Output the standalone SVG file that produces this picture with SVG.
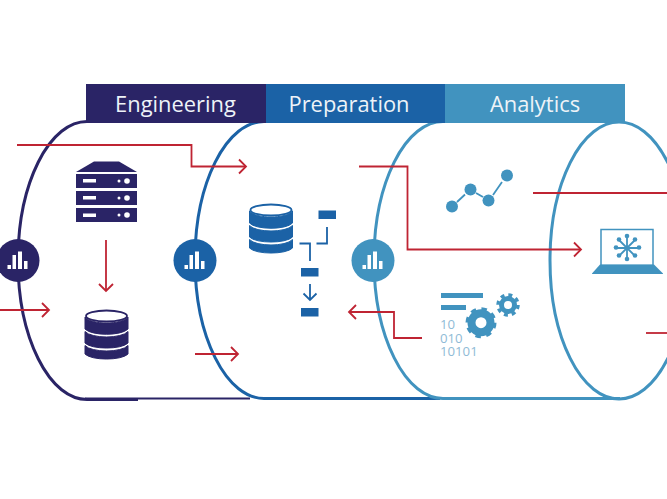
<svg xmlns="http://www.w3.org/2000/svg" width="667" height="499" viewBox="0 0 667 499">
<style>
.tab{font-family:"Open Sans","Noto Sans",sans-serif;font-size:21.9px;fill:#eef3f8;text-anchor:middle}
.cyl{fill:none;stroke-width:3}
.red{fill:none;stroke:#bf2433;stroke-width:1.800}
.d{fill:#2a2466}.b{fill:#1b62a6}.l{fill:#4193bf}
.w{fill:#fff}
.num{font-family:"Open Sans","Noto Sans",sans-serif;font-size:13.2px;fill:#8fbbd6}
</style>
<defs>
<marker id="ah" markerUnits="userSpaceOnUse" markerWidth="12" markerHeight="18" refX="10" refY="9" orient="auto"><path d="M3 2L10 9L3 16" fill="none" stroke="#bf2433" stroke-width="1.800"/></marker>
<g id="bars"><rect x="-11.500" y="5" width="3.500" height="4"/><rect x="-6.500" y="-5" width="3.500" height="14"/><rect x="-1" y="-8.500" width="4" height="17.500"/><rect x="5" y="1" width="3.500" height="8"/></g>
<g id="db"><path d="M-21.500 -18C-15 -10 15 -10 21.500 -18V-6C15 1 -15 1 -21.500 -6Z"/><path d="M-21.500 -3.500C-15 3.800 15 3.800 21.500 -3.500V8C15 14.700 -15 14.700 -21.500 8Z"/><path d="M-21.500 10.500C-15 17.800 15 17.800 21.500 10.500V19C15 25.700 -15 25.700 -21.500 19Z"/><ellipse cx="0" cy="-19" rx="20.500" ry="5.500" fill="#fff" stroke-width="1.800"/></g>
</defs>
<rect width="667" height="499" fill="#fff"/>
<g id="cylinders">
<path class="cyl" stroke="#2a2466" d="M85 398.500H250" style="stroke-width:2"/>
<path class="cyl" stroke="#2a2466" d="M138 399.500H87A69 139 0 0 1 87 121.500"/>
<path class="cyl" stroke="#1b62a6" d="M440 398.500H264A69 138.500 0 0 1 264 121.500"/>
<path class="cyl" stroke="#4193bf" d="M620 398.500H443A69 138.500 0 0 1 443 121.500"/>
<ellipse class="cyl" stroke="#4193bf" cx="619" cy="260.500" rx="69" ry="138.500"/>
</g>
<g id="tab-engineering"><rect class="d" x="86" y="84" width="180" height="39"/><text class="tab" x="175.500" y="111.500">Engineering</text></g>
<g id="tab-preparation"><rect class="b" x="266" y="84" width="180" height="39"/><text class="tab" x="349" y="111.500">Preparation</text></g>
<g id="tab-analytics"><rect class="l" x="445" y="84" width="180" height="39"/><text class="tab" x="535" y="111.500">Analytics</text></g>
<g id="connectors">
<path class="red" marker-end="url(#ah)" d="M17 145H191.500V166.500H246"/>
<path class="red" marker-end="url(#ah)" d="M106 240V291"/>
<path class="red" marker-end="url(#ah)" d="M0 310H49"/>
<path class="red" marker-end="url(#ah)" d="M195 354H238"/>
<path class="red" marker-end="url(#ah)" d="M359 166.500H407.500V249.500H581"/>
<path class="red" marker-end="url(#ah)" d="M422 338H394V312H349"/>
<path class="red" d="M533 193H667"/>
<path class="red" d="M646 333H667"/>
</g>
<g id="node-badge-engineering"><circle class="d" cx="18" cy="260.500" r="21.500"/><use href="#bars" x="19" y="260" class="w"/></g>
<g id="node-badge-preparation"><circle class="b" cx="195" cy="260.500" r="21.500"/><use href="#bars" x="196" y="260" class="w"/></g>
<g id="node-badge-analytics"><circle class="l" cx="373" cy="260.500" r="21.500"/><use href="#bars" x="374" y="260" class="w"/></g>
<g id="node-server" class="d">
<path d="M76 172L94 161.500H119L137 172Z"/>
<rect x="76" y="174" width="61" height="14"/><rect x="76" y="191" width="61" height="14"/><rect x="76" y="208" width="61" height="14"/>
<g class="w"><rect x="83" y="179" width="13" height="3.500"/><rect x="83" y="196" width="13" height="3.500"/><rect x="83" y="213.500" width="13" height="3.500"/>
<circle cx="119" cy="181" r="1.500"/><circle cx="127" cy="181" r="2.800"/><circle cx="119" cy="198" r="1.500"/><circle cx="127" cy="198" r="2.800"/><circle cx="119" cy="215" r="1.500"/><circle cx="127" cy="215" r="2.800"/></g>
</g>
<g id="node-db-engineering" class="d" transform="translate(106.500 335)"><use href="#db" stroke="#2a2466"/></g>
<g id="node-db-preparation" class="b" transform="translate(271 229)"><use href="#db" stroke="#1b62a6"/></g>
<g id="node-flow" class="b">
<rect x="318.500" y="210.500" width="17.500" height="8.500"/>
<rect x="301" y="268" width="17.500" height="8.500"/>
<rect x="301" y="308" width="17.500" height="8.500"/>
<path d="M327 227V243.500H316.500M299.500 243.500H310V261M310 284V299.500M303.500 293.500L310 300L316.500 293.500" fill="none" stroke="#1b62a6" stroke-width="1.800"/>
</g>
<g id="node-chart" class="l">
<circle cx="452" cy="206.500" r="6"/><circle cx="470.500" cy="189.500" r="6"/><circle cx="488.500" cy="200.500" r="6"/><circle cx="507" cy="175.500" r="6"/>
<path d="M457 202L465 194.500M476 193L483 197M493 195L502 182" fill="none" stroke="#4193bf" stroke-width="1.800"/>
</g>
<g id="node-laptop">
<rect x="601" y="229.500" width="52" height="36" fill="#fff" stroke="#4193bf" stroke-width="1.500"/>
<path class="l" d="M600 264.500H654L663 273.500V274H592V273.500Z"/>
<g stroke="#4193bf" stroke-width="1.800"><path d="M627 236V259M616 248H639M619 240L635 256M635 240L619 256"/></g>
<g class="l"><circle cx="627" cy="236" r="2.300"/><circle cx="627" cy="259" r="2.300"/><circle cx="616" cy="247.500" r="2.300"/><circle cx="639" cy="247.500" r="2.300"/><circle cx="619" cy="239.500" r="2.300"/><circle cx="635" cy="239.500" r="2.300"/><circle cx="619" cy="255.500" r="2.300"/><circle cx="635" cy="255.500" r="2.300"/></g>
</g>
<g id="node-code">
<rect class="l" x="441" y="293" width="42" height="5"/><rect class="l" x="441" y="305" width="25" height="5"/>
<text class="num"><tspan x="440" y="329">10</tspan><tspan x="440" y="342.700">010</tspan><tspan x="440" y="356">10101</tspan></text>
<circle cx="481" cy="322.700" r="9.500" fill="none" stroke="#4193bf" stroke-width="8"/>
<circle cx="481" cy="322.700" r="14" fill="none" stroke="#4193bf" stroke-width="3" stroke-dasharray="5.500 5.500"/>
<circle cx="508" cy="305" r="6.500" fill="none" stroke="#4193bf" stroke-width="5"/>
<circle cx="508" cy="305" r="10" fill="none" stroke="#4193bf" stroke-width="3.500" stroke-dasharray="3.930 3.930"/>
</g>
</svg>
